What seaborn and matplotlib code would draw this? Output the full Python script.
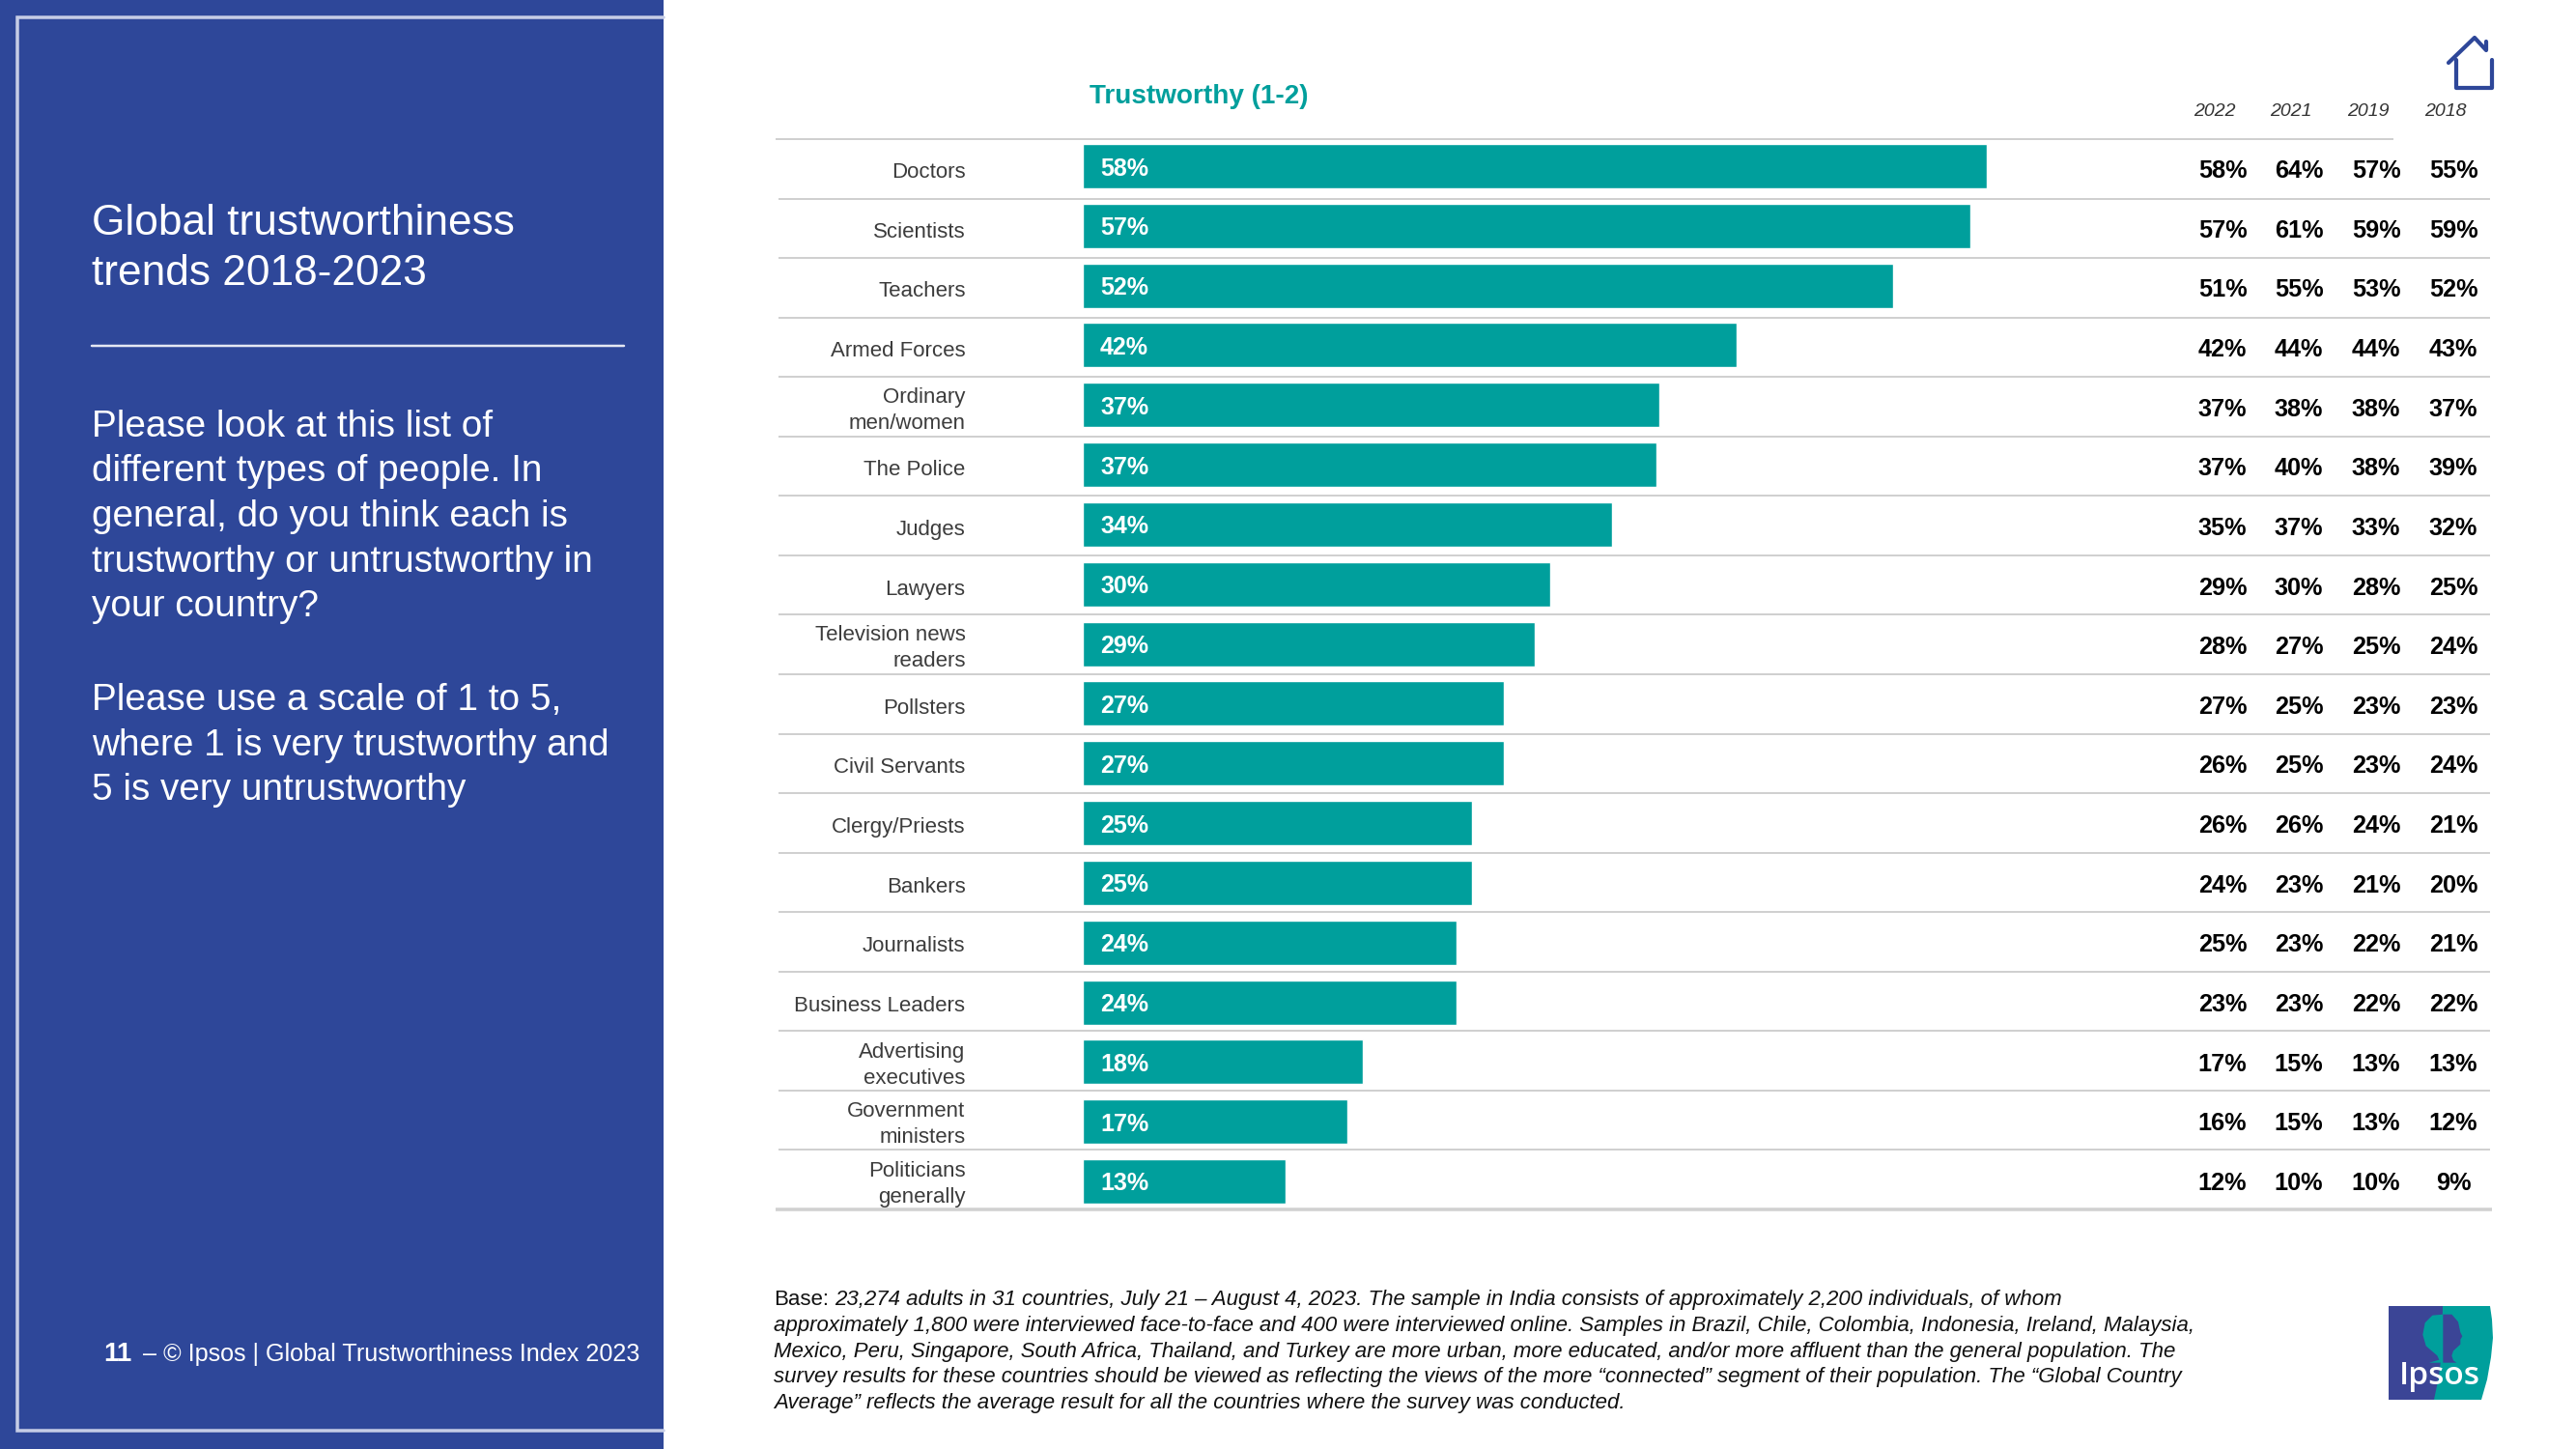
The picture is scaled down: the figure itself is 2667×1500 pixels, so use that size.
# Ipsos global trustworthiness slide, rebuilt with seaborn
import matplotlib
matplotlib.use("Agg")
import matplotlib.pyplot as plt
import numpy as np
import pandas as pd
import seaborn as sns
from matplotlib.patches import Polygon, Rectangle

# data
groups = ["Doctors", "Scientists", "Teachers", "Armed Forces", "Ordinary\nmen/women",
          "The Police", "Judges", "Lawyers", "Television news\nreaders", "Pollsters",
          "Civil Servants", "Clergy/Priests", "Bankers", "Journalists", "Business Leaders",
          "Advertising\nexecutives", "Government\nministers", "Politicians\ngenerally"]
trust_2023 = [58, 57, 52, 42, 37, 36.8, 34, 30, 29, 27, 27, 25, 25, 24, 24, 18, 17, 13]
trust_2022 = [58, 57, 51, 42, 37, 37, 35, 29, 28, 27, 26, 26, 24, 25, 23, 17, 16, 12]
trust_2021 = [64, 61, 55, 44, 38, 40, 37, 30, 27, 25, 25, 26, 23, 23, 23, 15, 15, 10]
trust_2019 = [57, 59, 53, 44, 38, 38, 33, 28, 25, 23, 23, 24, 21, 22, 22, 13, 13, 10]
trust_2018 = [55, 59, 52, 43, 37, 39, 32, 25, 24, 23, 24, 21, 20, 21, 22, 13, 12, 9]
year_labels = ["2022", "2021", "2019", "2018"]

title_lines = ["Global trustworthiness", "trends 2018-2023"]
question_lines = ["Please look at this list of", "different types of people. In",
                  "general, do you think each is", "trustworthy or untrustworthy in",
                  "your country?", "Please use a scale of 1 to 5,",
                  "where 1 is very trustworthy and", "5 is very untrustworthy"]
base_lines = [
    "23,274 adults in 31 countries, July 21 \u2013 August 4, 2023. The sample in India consists of approximately 2,200 individuals, of whom",
    "approximately 1,800 were interviewed face-to-face and 400 were interviewed online. Samples in Brazil, Chile, Colombia, Indonesia, Ireland, Malaysia,",
    "Mexico, Peru, Singapore, South Africa, Thailand, and Turkey are more urban, more educated, and/or more affluent than the general population. The",
    "survey results for these countries should be viewed as reflecting the views of the more \u201cconnected\u201d segment of their population. The \u201cGlobal Country",
    "Average\u201d reflects the average result for all the countries where the survey was conducted.",
]

# colours
BLUE = "#2e4799"
TEAL = "#009f9c"
FRAME = "#c6cde6"
RULE = "#d0d0d0"
LOGO_BLUE = "#3b4596"

W, H = 2667, 1500
sns.set_style("white")
plt.rcParams["font.family"] = ["Liberation Sans", "DejaVu Sans"]

fig = plt.figure(figsize=(W / 100, H / 100), dpi=100, facecolor="white")

# whole page axes in pixels, for everything around the chart
page = fig.add_axes([0, 0, 1, 1])
page.set_xlim(0, W)
page.set_ylim(H, 0)
page.axis("off")


def px(n):
    return n * 0.72


# left panel
page.add_patch(Rectangle((0, 0), 687, H, facecolor=BLUE, edgecolor="none"))
page.plot([687, 18, 18, 687], [18, 18, 1481, 1481], color=FRAME, lw=px(3.5), solid_joinstyle="miter")
page.plot([95, 646], [358, 358], color="#e4e7f3", lw=px(2.5))

for line, y in zip(title_lines, [243, 295]):
    page.text(95, y, line, color="white", fontsize=31.9, va="baseline")
question_y = [452, 498, 545, 592, 638, 735, 782, 828]
for line, y in zip(question_lines, question_y):
    page.text(95, y, line, color="white", fontsize=27.9, va="baseline")

page.text(107, 1409, "11", color="white", fontsize=20, fontweight="bold", va="baseline")
page.text(148, 1409, "\u2013 \u00a9 Ipsos | Global Trustworthiness Index 2023", color="white",
          fontsize=18.1, va="baseline")

# rows
rule_y = np.linspace(144, 1252, len(groups) + 1)
for i, y in enumerate(rule_y):
    x0, x1, lw = 806, 2578, 2
    if i == 0:
        x0, x1 = 803, 2478
    if i == len(groups):
        x0, x1, lw = 803, 2580, 3.5
    page.plot([x0, x1], [y, y], color=RULE, lw=px(lw), solid_capstyle="butt")

row_base = 184 + np.arange(len(groups)) * 61.65
for name, y in zip(groups, row_base):
    parts = name.split("\n")
    if len(parts) == 1:
        page.text(999.5, y, parts[0], ha="right", va="baseline", fontsize=16, color="#3c3c3c")
    else:
        page.text(999.5, y - 14, parts[0], ha="right", va="baseline", fontsize=16, color="#3c3c3c")
        page.text(999.5, y + 13, parts[1], ha="right", va="baseline", fontsize=16, color="#3c3c3c")

# trend columns
trend_x = [2301, 2380, 2460, 2540]
trend_cols = [trust_2022, trust_2021, trust_2019, trust_2018]
for x, year, col in zip(trend_x, year_labels, trend_cols):
    page.text(x - 8, 120, year, ha="center", va="baseline", fontsize=14, fontstyle="italic", color="#333333")
    for v, y in zip(col, row_base):
        page.text(x, y, f"{v}%", ha="center", va="baseline", fontsize=18.2, fontweight="bold", color="black")

page.text(1128, 107, "Trustworthy (1-2)", color=TEAL, fontsize=20.1, fontweight="bold", va="baseline")

# bars, axes placed so 1% = 16.13 px and rows are 61.82 px apart
df = pd.DataFrame({"group": groups, "trust": trust_2023})
ax_left, ax_right = 1121, 2100
ax_top, ax_bottom = 172 - 61.82 / 2, 1223 + 61.82 / 2
ax = fig.add_axes([ax_left / W, 1 - ax_bottom / H, (ax_right - ax_left) / W, (ax_bottom - ax_top) / H])
ax.patch.set_alpha(0)
sns.barplot(data=df, y="group", x="trust", color=TEAL, saturation=1, width=46 / 61.82, orient="h", ax=ax)
ax.set_xlim(0, (ax_right - ax_left) / 16.13)
ax.set_ylim(len(groups) - 0.5, -0.5)
ax.set_xticks([])
ax.set_yticks([])
ax.set_xlabel("")
ax.set_ylabel("")
sns.despine(ax=ax, left=True, bottom=True)
for i, v in enumerate(trust_2023):
    ax.annotate(f"{round(v)}%", xy=(0, i), xytext=(px(18), px(-9.5)), textcoords="offset points",
                color="white", fontsize=18, fontweight="bold", va="baseline")

# footnote
base_y = [1351, 1378, 1405, 1431, 1458]
base_word = page.text(801, base_y[0], "Base:", fontsize=16, color="#111111", va="baseline")
page.annotate(base_lines[0], xy=(1, 0), xycoords=base_word, xytext=(px(6.5), 0), textcoords="offset points",
              fontsize=16, fontstyle="italic", color="#111111", va="bottom")
for line, y in zip(base_lines[1:], base_y[1:]):
    page.text(801, y, line, fontsize=16, fontstyle="italic", color="#111111", va="baseline")

# home icon
page.plot([2535, 2562, 2574, 2574], [65, 39, 52, 43], color=BLUE, lw=px(4.2), solid_capstyle="round", solid_joinstyle="round")
page.plot([2543, 2543, 2580, 2580], [62, 91, 91, 62], color=BLUE, lw=px(4.2), solid_capstyle="round", solid_joinstyle="round")

# logo
page.add_patch(Rectangle((2473, 1352), 60, 97, facecolor=LOGO_BLUE, edgecolor="none"))
page.add_patch(Polygon([(2529, 1352), (2578, 1352), (2580, 1366), (2581, 1385), (2579, 1405), (2575, 1428),
                        (2569, 1449), (2520, 1449), (2525, 1425), (2528, 1400)],
                       facecolor=TEAL, edgecolor="none"))
crown = [(208, 62), (175, 65), (152, 88), (145, 125), (155, 160), (190, 190), (196, 203), (165, 212), (208, 212)]
head = [(208, 62), (235, 62), (255, 85), (262, 118), (268, 130), (262, 140), (262, 155), (240, 175), (235, 190),
        (240, 205), (250, 212), (208, 212)]
page.add_patch(Polygon([(2460 + a / 3, 1340 + b / 3) for a, b in crown], facecolor=TEAL, edgecolor="none"))
page.add_patch(Polygon([(2460 + a / 3, 1340 + b / 3) for a, b in head], facecolor=LOGO_BLUE, edgecolor="none"))
page.text(2526, 1433, "Ipsos", ha="center", va="baseline", color="white", fontsize=24,
          family=["Open Sans", "DejaVu Sans"], fontweight="semibold")

fig.savefig("out.png", dpi=100)
